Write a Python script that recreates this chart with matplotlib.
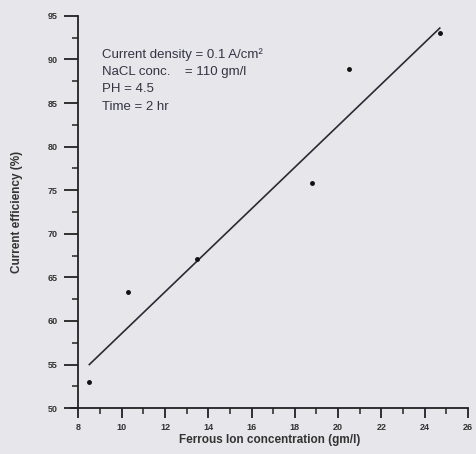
import matplotlib
matplotlib.use("Agg")
import matplotlib.pyplot as plt
from matplotlib.ticker import MultipleLocator

# Data
ferrous_conc = [8.5, 10.3, 13.5, 18.8, 20.5, 24.7]
current_eff = [53.0, 63.3, 67.1, 75.8, 88.9, 93.0]
fit_x = [8.5, 24.7]
fit_y = [55.0, 93.6]
x_ticks = [8, 10, 12, 14, 16, 18, 20, 22, 24, 26]
y_ticks = [50, 55, 60, 65, 70, 75, 80, 85, 90, 95]
notes = ["Current density = 0.1 A/cm²", "NaCL conc.    = 110 gm/l", "PH = 4.5", "Time = 2 hr"]

plt.rcParams['font.family'] = ['Liberation Sans', 'DejaVu Sans']

fig = plt.figure(figsize=(4.76, 4.54), dpi=100, facecolor='#e7e7eb')
ax = fig.add_axes([0.149, 0.101, 0.834, 0.864])
ax.set_facecolor('none')

ax.plot(fit_x, fit_y, color='#2a2a35', lw=1.2)
ax.plot(ferrous_conc, current_eff, 'o', color='#111111', ms=2.5)

ax.set_xlim(7.65, 26)
ax.set_ylim(50, 95)
ax.spines['top'].set_visible(False)
ax.spines['right'].set_visible(False)
ax.spines['left'].set_position(('data', 8))
for s in ('left', 'bottom'):
    ax.spines[s].set_linewidth(1.3)
    ax.spines[s].set_color('#222222')

ax.set_xticks(x_ticks)
ax.set_yticks(y_ticks)
ax.xaxis.set_minor_locator(MultipleLocator(1))
ax.yaxis.set_minor_locator(MultipleLocator(2.5))
ax.tick_params(axis='y', which='major', direction='out', length=10, width=1.3,
               color='#222222', labelsize=6.5, pad=5)
ax.tick_params(axis='x', which='major', direction='out', length=7.5, width=1.3,
               color='#222222', labelsize=6.5, pad=3)
ax.tick_params(axis='both', which='minor', direction='out', length=4.5, width=1.1,
               color='#222222')
for lab in ax.get_xticklabels() + ax.get_yticklabels():
    lab.set_fontweight('bold')
    lab.set_color('#333333')

ax.set_xlabel('Ferrous Ion concentration (gm/l)', fontsize=8.5, fontweight='bold',
              color='#333333', labelpad=1.5)
ax.set_ylabel('Current efficiency (%)', fontsize=8.5, fontweight='bold',
              color='#333333', labelpad=18)

for i, t in enumerate(notes):
    fig.text(102 / 476, 1 - (48 + i * 17.5) / 454, t, fontsize=9.5, color='#333344',
             va='top', ha='left')

fig.savefig('out.png', dpi=100, facecolor=fig.get_facecolor())
